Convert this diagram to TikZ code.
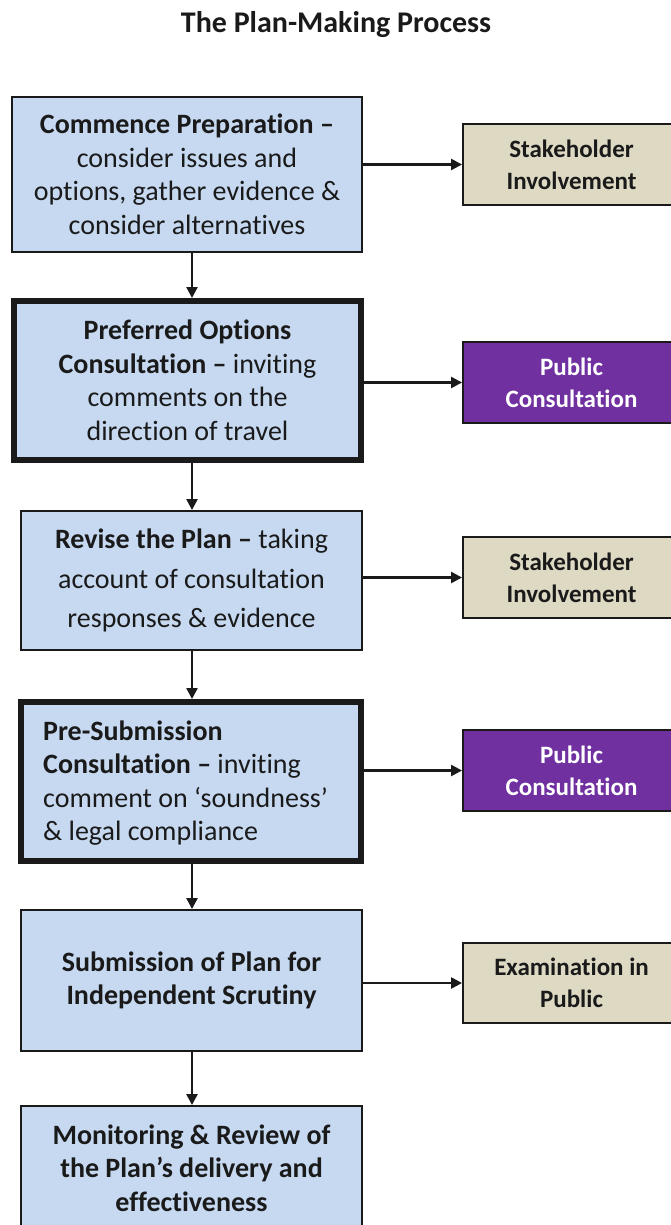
\documentclass[tikz,border=0pt]{standalone}
\usepackage{fontspec}
\setmainfont{Carlito}[Ligatures=NoCommon]
\usetikzlibrary{arrows.meta}
\definecolor{boxblue}{HTML}{C6D9F1}
\definecolor{beige}{HTML}{DDD9C3}
\definecolor{purp}{HTML}{7030A0}
\definecolor{ink}{HTML}{1A1A1A}
\begin{document}
\begin{tikzpicture}[x=1pt,y=-1pt,
 mainbox/.style={draw=ink, fill=boxblue, line width=1.9pt, rectangle, inner sep=0pt, align=center, text=ink, font=\fontsize{28}{33.5}\selectfont},
 thickbox/.style={mainbox, line width=6pt},
 boxtext/.style={inner sep=0pt, align=left, text=ink, font=\fontsize{28}{33.5}\selectfont},
 sidebox/.style={draw=ink, line width=1.9pt, rectangle, inner sep=0pt, align=center, font=\fontsize{25}{32}\selectfont\bfseries, minimum width=217pt, minimum height=81pt},
 arr/.style={draw=ink, line width=2.4pt, -{Triangle[length=11pt,width=11pt]}}
]
\useasboundingbox (0,0) rectangle (671,1225);
\coordinate (spine) at (192,0);

\node[anchor=base, text=ink, font=\fontsize{30}{36}\selectfont\bfseries] (title) at (336,33) {The Plan-Making Process};

\node[mainbox, minimum width=350pt, minimum height=155pt] (b1) at (187,174.5)
 {\textbf{Commence Preparation –}\\consider issues and\\options, gather evidence \&\\consider alternatives};
\node[thickbox, minimum width=347pt, minimum height=159pt] (b2) at (187.5,380.5)
 {\textbf{Preferred Options}\\\textbf{Consultation –} inviting\\comments on the\\direction of travel};
\node[mainbox, minimum width=341pt, minimum height=139pt, font=\fontsize{28}{39.5}\selectfont] (b3) at (191.5,580.5)
 {\textbf{Revise the Plan –} taking\\account of consultation\\responses \& evidence};
\node[thickbox, minimum width=340pt, minimum height=159pt] (b4) at (191,781.5) {};
\node[boxtext, anchor=west] (b4t) at (43,783)
 {\textbf{Pre-Submission}\\\textbf{Consultation –} inviting\\comment on ‘soundness’\\\& legal compliance};
\node[mainbox, minimum width=341pt, minimum height=141pt] (b5) at (191.5,980.5)
 {\textbf{Submission of Plan for}\\\textbf{Independent Scrutiny}};
\node[mainbox, minimum width=341pt, minimum height=124pt] (b6) at (191.5,1168)
 {\textbf{Monitoring \& Review of}\\\textbf{the Plan’s delivery and}\\\textbf{effectiveness}};

\node[sidebox, fill=beige, text=ink] (s1) at (571.5,164.5) {Stakeholder\\Involvement};
\node[sidebox, fill=purp, text=white] (s2) at (571.5,382.5) {Public\\Consultation};
\node[sidebox, fill=beige, text=ink] (s3) at (571.5,577.5) {Stakeholder\\Involvement};
\node[sidebox, fill=purp, text=white] (s4) at (571.5,770.5) {Public\\Consultation};
\node[sidebox, fill=beige, text=ink, minimum height=80pt] (s5) at (571.5,983) {Examination in\\Public};

\draw[arr] (b1.east |- s1.west) -- (s1.west);
\draw[arr] (b2.east |- s2.west) -- (s2.west);
\draw[arr] (b3.east |- s3.west) -- (s3.west);
\draw[arr] (b4.east |- s4.west) -- (s4.west);
\draw[arr] (b5.east |- s5.west) -- (s5.west);

\draw[arr] (b1.south -| spine) -- (b2.north -| spine);
\draw[arr] (b2.south -| spine) -- (b3.north -| spine);
\draw[arr] (b3.south -| spine) -- (b4.north -| spine);
\draw[arr] (b4.south -| spine) -- (b5.north -| spine);
\draw[arr] (b5.south -| spine) -- (b6.north -| spine);
\end{tikzpicture}
\end{document}
